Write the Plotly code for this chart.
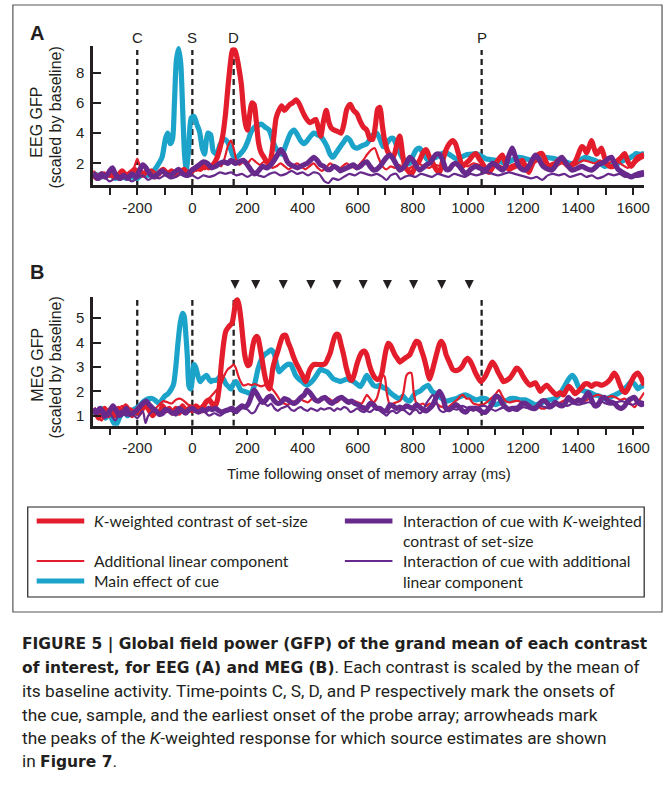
import plotly.graph_objects as go

W, H = 671, 792


def px(x):
    return x / W


def py(y):
    return 1 - y / H


RED = "#e31d2b"
CYAN = "#1ba3c9"
PURPLE = "#672a8c"
INK = "#231f20"

# ---------------- data (time ms, GFP scaled by baseline) ----------------
eeg_cue = [(-360, 1.3), (-340, 1.2), (-320, 1.1), (-300, 1.3), (-280, 1.0), (-260, 1.2), (-240, 1.0), (-220, 1.1),
           (-200, 1.0), (-180, 1.3), (-160, 1.2), (-140, 1.5), (-125, 1.9), (-110, 2.4), (-98, 3.6), (-90, 4.0),
           (-80, 3.3), (-72, 3.6), (-65, 6.0), (-58, 8.8), (-50, 9.6), (-42, 8.6), (-35, 5.5), (-28, 2.5),
           (-22, 1.6), (-14, 2.8), (-4, 5.0), (6, 5.1), (16, 4.6), (26, 4.1), (36, 3.0), (44, 2.6), (56, 4.0),
           (66, 3.9), (76, 2.8), (88, 2.6), (100, 3.2), (112, 3.6), (124, 3.5), (136, 3.1), (148, 2.5), (162, 2.4),
           (178, 2.7), (190, 3.0), (202, 3.5), (214, 4.1), (226, 4.4), (238, 4.5), (250, 4.6), (264, 4.4),
           (279, 4.2), (290, 3.6), (300, 3.1), (312, 2.8), (324, 2.6), (335, 3.0), (345, 3.5), (357, 4.0),
           (369, 4.2), (381, 3.9), (393, 3.5), (405, 3.3), (417, 3.5), (429, 3.8), (441, 4.0), (453, 3.9),
           (465, 3.8), (477, 3.5), (489, 3.1), (500, 2.6), (510, 2.4), (522, 2.7), (537, 3.1), (549, 3.4),
           (561, 3.7), (573, 3.5), (585, 3.1), (597, 3.0), (609, 3.1), (621, 3.2), (633, 3.3), (645, 3.6),
           (657, 3.9), (669, 4.0), (681, 3.6), (693, 3.1), (705, 3.3), (717, 3.6), (729, 3.65), (741, 3.2),
           (753, 2.7), (765, 2.3), (777, 2.0), (789, 2.0), (801, 2.5), (813, 2.9), (825, 3.0), (840, 2.6),
           (855, 2.2), (870, 2.3), (885, 2.4), (900, 2.6), (921, 2.7), (940, 2.5), (957, 2.3), (975, 2.4),
           (993, 2.55), (1010, 2.6), (1029, 2.65), (1047, 2.5), (1065, 2.3), (1083, 2.25), (1101, 2.2),
           (1120, 2.1), (1137, 2.0), (1160, 2.2), (1185, 2.4), (1210, 2.3), (1233, 2.2), (1257, 2.3), (1281, 2.4),
           (1300, 2.35), (1317, 2.3), (1335, 2.2), (1353, 2.1), (1371, 2.0), (1389, 2.0), (1407, 2.2),
           (1425, 2.4), (1443, 2.3), (1461, 2.2), (1480, 2.0), (1497, 1.8), (1520, 1.9), (1545, 2.0),
           (1565, 2.2), (1581, 2.3), (1600, 2.5), (1611, 2.65), (1625, 2.6), (1640, 2.65)]

eeg_k = [(-360, 1.2), (-345, 1.0), (-330, 1.3), (-315, 1.1), (-300, 1.4), (-285, 1.1), (-270, 1.2), (-255, 1.5),
         (-240, 1.2), (-225, 1.3), (-210, 1.6), (-195, 1.4), (-180, 1.2), (-165, 1.5), (-150, 1.3), (-135, 1.1),
         (-120, 1.4), (-105, 1.6), (-90, 1.3), (-75, 1.5), (-60, 1.2), (-45, 1.4), (-30, 1.6), (-15, 1.3),
         (0, 1.5), (15, 1.7), (30, 1.6), (45, 1.9), (60, 1.7), (75, 1.9), (88, 2.3), (100, 3.0), (110, 3.8),
         (120, 5.2), (130, 7.2), (138, 8.6), (146, 9.5), (154, 9.5), (162, 9.0), (170, 8.2), (178, 7.2),
         (186, 5.5), (194, 4.5), (200, 4.2), (208, 5.2), (216, 6.0), (224, 5.9), (232, 4.8), (240, 3.4),
         (250, 2.7), (260, 2.4), (270, 2.1), (280, 2.0), (288, 2.6), (296, 3.8), (304, 5.0), (314, 5.5),
         (324, 5.8), (334, 5.5), (344, 5.7), (354, 5.9), (364, 6.0), (376, 6.2), (386, 6.0), (396, 5.6),
         (406, 5.2), (416, 4.9), (426, 4.7), (438, 4.8), (448, 4.9), (458, 4.3), (466, 3.8), (476, 4.8),
         (486, 5.5), (496, 4.7), (506, 4.3), (516, 4.2), (528, 4.1), (540, 4.0), (550, 4.6), (561, 5.6),
         (573, 5.9), (585, 5.5), (597, 5.3), (609, 4.8), (621, 4.4), (633, 4.2), (645, 3.6), (655, 3.6),
         (665, 4.6), (673, 5.6), (681, 5.7), (689, 4.6), (697, 3.6), (711, 2.7), (729, 2.4), (743, 3.3),
         (753, 3.8), (763, 2.6), (771, 1.8), (783, 1.5), (795, 1.3), (810, 1.8), (825, 2.2), (837, 2.7),
         (849, 2.9), (861, 2.4), (873, 2.0), (885, 1.6), (897, 1.4), (909, 2.2), (921, 2.9), (933, 3.3),
         (945, 3.5), (955, 3.3), (965, 2.7), (981, 1.8), (993, 2.0), (1005, 2.2), (1017, 2.5), (1029, 2.65),
         (1041, 2.3), (1053, 2.0), (1065, 1.6), (1077, 1.4), (1089, 1.7), (1101, 2.0), (1113, 2.3),
         (1125, 2.55), (1137, 2.0), (1149, 1.6), (1161, 1.7), (1173, 1.8), (1185, 2.0), (1197, 2.2),
         (1209, 1.8), (1221, 1.4), (1233, 1.9), (1245, 2.4), (1257, 2.6), (1269, 2.65), (1281, 2.2),
         (1293, 1.8), (1305, 1.9), (1317, 2.0), (1329, 2.2), (1341, 2.2), (1353, 2.0), (1365, 1.8),
         (1377, 1.9), (1389, 2.1), (1401, 2.6), (1413, 3.1), (1422, 3.0), (1431, 2.7), (1440, 3.1),
         (1449, 3.5), (1458, 3.0), (1467, 2.6), (1476, 2.8), (1485, 3.0), (1494, 2.5), (1503, 2.0),
         (1515, 1.8), (1527, 1.8), (1545, 2.2), (1557, 2.4), (1569, 2.65), (1581, 2.1), (1593, 1.8),
         (1605, 2.1), (1617, 2.4), (1629, 2.5), (1640, 2.6)]

eeg_lin = [(-360, 1.5), (-340, 1.2), (-320, 1.4), (-300, 1.1), (-280, 1.3), (-260, 1.0), (-240, 1.3), (-225, 1.5),
           (-212, 1.7), (-200, 2.3), (-190, 1.8), (-178, 1.4), (-165, 1.3), (-150, 1.6), (-135, 1.4), (-120, 1.2),
           (-105, 1.5), (-90, 1.4), (-75, 1.2), (-60, 1.5), (-45, 1.3), (-30, 1.6), (-15, 1.4), (0, 1.7),
           (15, 1.5), (30, 1.8), (45, 1.6), (60, 1.9), (75, 1.7), (90, 2.0), (105, 1.8), (118, 2.4), (130, 3.2),
           (140, 3.5), (150, 3.0), (160, 2.2), (172, 1.9), (185, 2.1), (200, 2.0), (215, 2.3), (230, 2.1),
           (245, 1.9), (260, 2.1), (275, 1.9), (290, 1.7), (305, 1.8), (320, 2.0), (335, 1.8), (350, 1.6),
           (365, 1.8), (380, 2.0), (395, 1.8), (410, 1.6), (425, 1.8), (440, 2.0), (455, 1.7), (470, 1.5),
           (485, 1.7), (500, 2.0), (515, 1.8), (530, 1.6), (545, 1.8), (560, 2.0), (575, 1.8), (590, 1.7),
           (605, 1.9), (620, 2.2), (635, 2.6), (650, 2.9), (662, 3.0), (675, 2.4), (690, 1.8), (705, 1.6),
           (720, 1.8), (735, 1.7), (750, 1.9), (765, 1.7), (780, 1.6), (800, 1.8), (820, 2.0), (840, 1.8),
           (860, 1.7), (880, 1.9), (900, 1.8), (920, 1.6), (940, 1.8), (960, 2.0), (980, 1.9), (1000, 1.8),
           (1020, 2.0), (1040, 1.9), (1060, 1.7), (1080, 1.8), (1100, 2.0), (1120, 1.8), (1140, 1.7),
           (1160, 1.9), (1180, 2.0), (1200, 1.8), (1220, 1.7), (1240, 2.0), (1260, 2.2), (1280, 2.0),
           (1300, 1.9), (1320, 1.8), (1340, 2.0), (1360, 1.9), (1380, 1.8), (1400, 2.0), (1420, 2.2),
           (1440, 2.1), (1460, 2.0), (1480, 2.2), (1500, 1.9), (1520, 2.1), (1540, 2.2), (1560, 1.9),
           (1580, 1.7), (1600, 1.9), (1620, 2.2), (1640, 2.4)]

eeg_int_k = [(-360, 1.4), (-345, 1.0), (-330, 1.3), (-315, 1.1), (-300, 1.5), (-290, 1.7), (-280, 1.3), (-265, 1.0),
             (-250, 1.2), (-235, 1.0), (-220, 1.3), (-205, 1.1), (-190, 1.6), (-180, 1.9), (-168, 1.7), (-155, 1.3),
             (-140, 1.1), (-125, 1.3), (-110, 1.5), (-95, 1.3), (-80, 1.2), (-65, 1.4), (-50, 1.6), (-35, 1.3),
             (-20, 1.2), (-5, 1.5), (10, 1.7), (25, 1.9), (40, 2.1), (55, 2.0), (70, 1.7), (85, 1.8), (100, 2.0),
             (115, 2.1), (130, 2.0), (140, 2.2), (155, 2.0), (170, 2.1), (185, 2.2), (200, 1.9), (215, 1.5),
             (226, 1.3), (240, 1.5), (255, 1.8), (270, 1.7), (285, 1.9), (297, 2.2), (310, 2.6), (321, 2.9),
             (333, 2.6), (345, 2.1), (357, 1.9), (369, 1.8), (381, 1.7), (393, 1.8), (405, 1.9), (417, 2.0),
             (429, 2.2), (441, 2.4), (453, 2.2), (465, 1.9), (477, 1.8), (489, 1.6), (501, 1.6), (513, 1.8),
             (525, 1.7), (537, 1.5), (549, 1.6), (561, 1.7), (573, 1.8), (585, 1.9), (597, 1.7), (609, 1.8),
             (621, 2.0), (633, 2.1), (645, 1.8), (657, 1.55), (669, 1.6), (681, 1.8), (693, 2.1), (705, 2.4),
             (717, 2.55), (729, 2.3), (741, 1.9), (753, 1.55), (765, 1.7), (777, 2.0), (789, 2.4), (801, 2.2),
             (813, 1.8), (825, 1.55), (837, 1.7), (849, 1.9), (861, 2.0), (873, 2.3), (885, 2.6), (897, 2.6),
             (909, 2.2), (921, 1.6), (933, 1.6), (945, 1.9), (957, 2.0), (969, 1.8), (981, 1.5), (993, 1.3),
             (1005, 1.5), (1017, 1.7), (1029, 1.8), (1041, 1.7), (1053, 1.6), (1065, 1.55), (1077, 1.8),
             (1089, 2.0), (1101, 1.9), (1113, 1.7), (1125, 1.55), (1137, 1.8), (1149, 2.5), (1161, 3.0),
             (1173, 2.4), (1185, 1.8), (1197, 1.6), (1209, 1.55), (1221, 1.8), (1233, 2.2), (1245, 2.55),
             (1257, 2.3), (1269, 1.9), (1281, 1.7), (1293, 1.6), (1305, 1.55), (1317, 1.8), (1329, 2.2),
             (1341, 2.4), (1353, 2.1), (1365, 1.8), (1377, 1.55), (1389, 1.6), (1401, 1.7), (1413, 1.8),
             (1425, 1.7), (1437, 1.6), (1449, 1.55), (1461, 1.7), (1473, 1.9), (1485, 2.0), (1497, 2.1),
             (1509, 2.3), (1521, 2.4), (1533, 2.0), (1545, 1.6), (1557, 1.45), (1569, 1.3), (1581, 1.2),
             (1593, 1.1), (1605, 1.2), (1617, 1.3), (1629, 1.35), (1640, 1.4)]

eeg_int_lin = [(-360, 1.2), (-340, 0.9), (-320, 1.1), (-300, 0.8), (-280, 1.0), (-260, 0.9), (-240, 1.1), (-220, 0.8),
               (-200, 1.0), (-180, 1.2), (-160, 0.9), (-140, 1.1), (-120, 1.0), (-100, 1.2), (-80, 1.0), (-60, 1.1),
               (-40, 1.3), (-20, 1.1), (0, 1.2), (20, 1.0), (40, 1.2), (60, 1.1), (80, 1.2), (100, 1.4), (120, 1.3),
               (140, 1.4), (160, 1.2), (180, 1.3), (200, 1.1), (220, 1.3), (240, 1.2), (260, 1.1), (280, 1.3),
               (300, 1.4), (320, 1.2), (340, 1.3), (360, 1.5), (380, 1.3), (400, 1.4), (420, 1.2), (440, 1.4),
               (460, 1.3), (480, 0.8), (495, 0.7), (510, 1.0), (530, 0.9), (550, 1.1), (570, 1.3), (590, 1.2),
               (610, 1.4), (630, 1.3), (650, 1.2), (670, 1.3), (690, 1.1), (705, 0.9), (720, 1.2), (740, 1.3),
               (755, 0.95), (770, 1.1), (790, 1.2), (810, 1.1), (830, 1.3), (850, 1.2), (870, 1.1), (890, 1.3),
               (910, 1.2), (930, 1.1), (950, 1.3), (970, 1.2), (990, 1.1), (1010, 1.3), (1030, 1.2), (1050, 1.3),
               (1070, 1.4), (1090, 1.3), (1110, 1.2), (1130, 1.3), (1150, 1.4), (1170, 1.3), (1190, 1.2),
               (1210, 1.1), (1230, 1.0), (1250, 1.1), (1270, 0.9), (1290, 1.2), (1310, 1.3), (1330, 1.2),
               (1350, 1.3), (1370, 1.1), (1390, 1.2), (1410, 1.3), (1430, 1.1), (1450, 1.2), (1470, 1.0),
               (1490, 1.1), (1510, 1.3), (1530, 1.2), (1550, 1.3), (1570, 1.1), (1590, 1.2), (1610, 1.1),
               (1640, 1.2)]

meg_cue = [(-360, 1.2), (-345, 1.0), (-330, 1.3), (-315, 0.9), (-300, 1.1), (-290, 0.8), (-278, 0.6), (-265, 0.9),
           (-250, 1.2), (-235, 1.0), (-220, 1.2), (-205, 1.3), (-192, 1.4), (-180, 1.55), (-168, 1.65), (-156, 1.7),
           (-144, 1.7), (-132, 1.6), (-120, 1.5), (-110, 1.65), (-100, 1.8), (-88, 1.9), (-76, 2.1), (-68, 2.3),
           (-60, 3.0), (-52, 4.0), (-44, 4.8), (-36, 5.2), (-30, 5.1), (-24, 4.4), (-18, 3.4), (-12, 2.2),
           (-6, 2.1), (0, 2.5), (6, 3.1), (12, 3.0), (20, 2.65), (28, 2.4), (36, 2.5), (44, 2.6), (52, 2.65),
           (60, 2.5), (68, 2.4), (76, 2.45), (86, 2.45), (96, 2.55), (104, 2.65), (113, 2.5), (122, 2.3),
           (131, 2.2), (140, 2.1), (149, 2.3), (158, 2.4), (167, 2.25), (176, 2.05), (188, 2.0), (200, 1.95),
           (212, 1.9), (224, 2.2), (238, 2.9), (250, 3.3), (262, 3.5), (274, 3.6), (286, 3.7), (297, 3.55),
           (306, 3.1), (315, 2.8), (324, 2.9), (333, 3.0), (345, 3.1), (357, 3.1), (366, 2.9), (375, 2.65),
           (387, 2.5), (399, 2.4), (408, 2.3), (417, 2.25), (429, 2.35), (441, 2.5), (453, 2.7), (465, 2.9),
           (477, 2.85), (489, 2.8), (501, 2.65), (513, 2.5), (525, 2.45), (537, 2.4), (549, 2.45), (561, 2.5),
           (573, 2.45), (585, 2.4), (597, 2.3), (609, 2.2), (621, 2.4), (633, 2.65), (645, 2.45), (657, 2.25),
           (669, 2.2), (681, 2.25), (693, 2.15), (705, 2.1), (717, 1.95), (729, 1.85), (741, 1.75), (753, 1.7),
           (765, 1.8), (777, 1.65), (789, 1.6), (801, 1.8), (813, 1.95), (825, 2.0), (840, 2.15), (855, 2.25),
           (870, 2.0), (885, 1.9), (900, 1.75), (921, 1.6), (940, 1.65), (957, 1.7), (975, 1.8), (993, 1.85),
           (1010, 1.75), (1029, 1.65), (1047, 1.7), (1065, 1.7), (1083, 1.55), (1101, 1.45), (1120, 1.55),
           (1137, 1.6), (1155, 1.7), (1173, 1.7), (1191, 1.65), (1209, 1.65), (1227, 1.55), (1245, 1.45),
           (1263, 1.5), (1281, 1.6), (1299, 1.65), (1317, 1.7), (1335, 1.9), (1353, 2.25), (1366, 2.5),
           (1379, 2.65), (1390, 2.5), (1401, 2.2), (1413, 2.05), (1425, 2.0), (1443, 1.95), (1461, 1.85),
           (1479, 1.8), (1497, 1.7), (1515, 1.75), (1533, 1.85), (1551, 1.95), (1569, 2.1), (1581, 2.25),
           (1593, 2.4), (1605, 2.3), (1617, 2.1), (1629, 2.2), (1640, 2.25)]

meg_k = [(-360, 1.3), (-350, 1.1), (-340, 0.9), (-330, 1.1), (-318, 1.3), (-305, 1.0), (-292, 1.2), (-280, 1.0),
         (-268, 1.3), (-255, 1.1), (-242, 1.4), (-230, 1.2), (-218, 1.0), (-205, 1.2), (-192, 1.1), (-180, 1.3),
         (-168, 1.4), (-156, 1.2), (-144, 1.0), (-132, 1.2), (-120, 1.1), (-108, 1.4), (-96, 1.2), (-84, 1.3),
         (-72, 1.1), (-60, 1.3), (-48, 1.1), (-36, 1.4), (-24, 1.2), (-12, 1.3), (0, 1.2), (12, 1.4), (24, 1.3),
         (36, 1.2), (44, 1.45), (53, 1.6), (62, 1.65), (71, 1.5), (80, 1.35), (90, 1.6), (98, 2.2), (106, 3.2),
         (114, 4.0), (121, 4.45), (129, 4.6), (136, 4.7), (144, 4.8), (151, 5.2), (158, 5.7), (164, 5.75),
         (170, 5.5), (177, 4.9), (184, 4.1), (190, 3.5), (196, 3.2), (202, 3.05), (208, 3.1), (214, 3.5),
         (220, 3.9), (226, 4.15), (232, 4.25), (238, 4.2), (244, 3.9), (250, 3.5), (256, 3.1), (262, 2.7),
         (268, 2.4), (274, 2.2), (280, 2.1), (286, 2.4), (292, 2.95), (300, 3.3), (309, 3.6), (318, 3.95),
         (327, 4.25), (333, 4.3), (339, 4.3), (348, 4.0), (357, 3.75), (366, 3.45), (375, 3.2), (384, 3.0),
         (393, 2.8), (402, 2.6), (411, 2.4), (417, 2.55), (423, 2.8), (432, 3.0), (441, 3.1), (453, 3.1),
         (465, 3.1), (474, 3.1), (483, 3.15), (492, 3.35), (501, 3.6), (510, 4.0), (519, 4.3), (525, 4.35),
         (531, 4.3), (540, 3.9), (549, 3.5), (558, 3.0), (567, 2.65), (573, 2.5), (579, 2.45), (588, 2.7),
         (597, 3.1), (606, 3.4), (615, 3.6), (624, 3.65), (633, 3.5), (642, 3.1), (651, 2.8), (660, 2.6),
         (669, 2.5), (678, 2.5), (687, 2.7), (695, 3.2), (703, 3.7), (711, 3.97), (719, 3.9), (727, 3.7),
         (735, 3.5), (744, 3.35), (753, 3.2), (765, 3.3), (777, 3.4), (789, 3.5), (801, 3.8), (813, 4.05),
         (822, 4.0), (831, 3.7), (840, 3.4), (849, 3.0), (855, 2.7), (861, 2.5), (870, 2.8), (879, 3.2),
         (888, 3.6), (897, 3.95), (903, 4.05), (912, 3.9), (921, 3.5), (933, 3.2), (945, 2.9), (957, 2.85),
         (969, 2.9), (981, 3.05), (990, 3.25), (999, 3.35), (1008, 3.25), (1017, 3.05), (1026, 2.8),
         (1035, 2.6), (1047, 2.4), (1056, 2.5), (1065, 2.65), (1077, 2.95), (1089, 3.2), (1099, 3.05),
         (1109, 2.8), (1119, 2.6), (1129, 2.4), (1141, 2.45), (1153, 2.55), (1165, 2.75), (1177, 2.95),
         (1189, 2.85), (1201, 2.6), (1213, 2.4), (1225, 2.25), (1235, 2.3), (1245, 2.35), (1255, 2.15),
         (1263, 2.0), (1275, 2.15), (1287, 2.25), (1299, 2.1), (1311, 1.95), (1323, 1.85), (1335, 1.95),
         (1347, 1.85), (1357, 2.05), (1367, 2.2), (1379, 2.05), (1389, 1.9), (1401, 2.0), (1413, 2.15),
         (1425, 2.3), (1437, 2.3), (1449, 2.2), (1461, 2.3), (1473, 2.3), (1485, 2.25), (1497, 2.3),
         (1509, 2.4), (1520, 2.55), (1531, 2.75), (1541, 2.6), (1551, 2.3), (1561, 2.05), (1571, 1.95),
         (1581, 2.1), (1593, 2.4), (1605, 2.65), (1617, 2.75), (1629, 2.55), (1640, 2.25)]

meg_lin = [(-360, 1.2), (-345, 1.0), (-330, 0.8), (-315, 1.1), (-300, 1.3), (-285, 1.0), (-270, 1.2), (-255, 1.4),
           (-240, 1.1), (-225, 1.3), (-210, 1.2), (-195, 1.4), (-180, 1.35), (-165, 1.5), (-150, 1.4), (-135, 1.3),
           (-120, 1.45), (-105, 1.6), (-90, 1.55), (-75, 1.5), (-60, 1.65), (-45, 1.7), (-30, 1.6), (-15, 1.45),
           (0, 1.4), (12, 1.35), (24, 1.3), (36, 1.45), (48, 1.6), (60, 1.7), (72, 1.85), (84, 2.0), (96, 2.15),
           (108, 2.4), (118, 2.7), (128, 2.9), (140, 3.0), (150, 3.1), (158, 2.95), (166, 2.65), (175, 2.4),
           (184, 2.25), (193, 2.25), (202, 2.3), (214, 2.25), (226, 2.3), (238, 2.25), (250, 2.2), (262, 2.25),
           (274, 2.3), (286, 2.15), (297, 2.0), (309, 1.8), (321, 1.6), (333, 1.5), (345, 1.45), (360, 1.55),
           (375, 1.6), (390, 1.7), (405, 1.6), (420, 1.55), (435, 1.7), (450, 1.65), (465, 1.6), (480, 1.75),
           (495, 1.7), (510, 1.6), (525, 1.55), (540, 1.7), (555, 1.65), (570, 1.5), (585, 1.6), (600, 1.55),
           (615, 1.5), (633, 1.85), (645, 1.7), (657, 1.55), (669, 1.7), (681, 2.2), (690, 2.65), (698, 2.6),
           (706, 1.9), (717, 1.45), (729, 1.5), (741, 1.55), (753, 1.6), (765, 1.9), (777, 2.65), (786, 2.75),
           (795, 2.75), (803, 2.0), (812, 1.55), (825, 1.45), (837, 1.5), (849, 1.4), (861, 1.5), (873, 1.45),
           (885, 1.5), (897, 1.4), (909, 1.35), (921, 1.3), (940, 1.45), (960, 1.65), (981, 1.85), (995, 1.7),
           (1005, 1.7), (1020, 1.5), (1035, 1.45), (1053, 1.45), (1068, 1.55), (1083, 1.7), (1098, 1.85),
           (1113, 2.05), (1125, 1.8), (1137, 1.6), (1155, 1.55), (1170, 1.6), (1185, 1.6), (1200, 1.5),
           (1215, 1.4), (1233, 1.35), (1250, 1.4), (1265, 1.3), (1281, 1.3), (1297, 1.4), (1313, 1.5),
           (1329, 1.5), (1345, 1.6), (1361, 1.7), (1377, 1.7), (1393, 1.6), (1409, 1.55), (1425, 1.6),
           (1441, 1.7), (1457, 1.8), (1473, 1.85), (1489, 1.8), (1505, 1.75), (1521, 1.8), (1537, 1.75),
           (1553, 1.65), (1569, 1.7), (1585, 1.55), (1605, 1.35), (1620, 1.6), (1640, 1.95)]

meg_int_k = [(-360, 1.3), (-348, 1.1), (-336, 1.3), (-324, 1.15), (-312, 1.0), (-300, 1.2), (-288, 1.4), (-276, 1.2),
             (-264, 1.0), (-252, 1.1), (-240, 1.3), (-228, 1.05), (-216, 1.1), (-204, 1.2), (-192, 1.35), (-180, 1.5),
             (-168, 1.6), (-156, 1.45), (-144, 1.3), (-132, 1.2), (-120, 1.05), (-108, 1.1), (-96, 1.25),
             (-84, 1.2), (-72, 1.1), (-60, 1.15), (-48, 1.3), (-36, 1.2), (-24, 1.1), (-12, 1.25), (0, 1.3),
             (12, 1.2), (24, 1.15), (36, 1.25), (48, 1.2), (60, 1.3), (72, 1.25), (84, 1.3), (96, 1.2), (108, 1.15),
             (120, 1.2), (132, 1.25), (144, 1.3), (156, 1.2), (168, 1.3), (180, 1.4), (192, 1.35), (204, 1.5),
             (214, 1.8), (224, 2.05), (234, 1.9), (244, 1.7), (254, 1.55), (264, 1.6), (274, 1.75), (286, 1.8),
             (298, 1.6), (310, 1.5), (322, 1.55), (334, 1.7), (346, 1.65), (358, 1.55), (370, 1.5), (382, 1.6),
             (394, 1.75), (406, 1.85), (416, 2.05), (426, 1.95), (436, 1.8), (446, 1.65), (458, 1.6), (470, 1.7),
             (482, 1.75), (494, 1.6), (506, 1.5), (518, 1.6), (530, 1.7), (542, 1.75), (554, 1.65), (566, 1.55),
             (578, 1.6), (590, 1.5), (602, 1.45), (614, 1.35), (626, 1.3), (633, 1.3), (645, 1.5), (657, 1.45),
             (669, 1.3), (681, 1.3), (693, 1.2), (705, 1.2), (717, 1.45), (729, 1.4), (741, 1.3), (753, 1.35),
             (765, 1.3), (777, 1.4), (789, 1.35), (801, 1.3), (813, 1.45), (825, 1.35), (837, 1.25), (849, 1.2),
             (861, 1.3), (873, 1.45), (885, 1.75), (897, 2.0), (909, 1.75), (921, 1.3), (933, 1.25), (945, 1.35),
             (957, 1.45), (969, 1.35), (981, 1.2), (993, 1.15), (1005, 1.3), (1017, 1.3), (1029, 1.3),
             (1041, 1.25), (1053, 1.15), (1065, 1.15), (1077, 1.3), (1089, 1.5), (1101, 1.8), (1113, 1.75),
             (1125, 1.5), (1137, 1.35), (1149, 1.25), (1161, 1.3), (1173, 1.3), (1185, 1.35), (1197, 1.5),
             (1209, 1.5), (1221, 1.4), (1233, 1.3), (1245, 1.3), (1257, 1.45), (1269, 1.6), (1281, 1.6),
             (1293, 1.45), (1305, 1.4), (1317, 1.55), (1329, 1.45), (1341, 1.4), (1353, 1.5), (1365, 1.75),
             (1377, 1.6), (1389, 1.55), (1401, 1.65), (1413, 1.6), (1425, 1.75), (1437, 1.95), (1449, 1.65),
             (1461, 1.4), (1473, 1.45), (1485, 1.7), (1497, 1.75), (1509, 1.6), (1521, 1.55), (1533, 1.5),
             (1545, 1.35), (1557, 1.3), (1569, 1.4), (1581, 1.6), (1593, 1.7), (1605, 1.75), (1617, 1.55),
             (1629, 1.45), (1640, 1.5)]

meg_int_lin = [(-360, 1.1), (-340, 1.3), (-320, 0.9), (-300, 1.1), (-280, 0.8), (-260, 1.2), (-240, 1.0), (-220, 1.1),
               (-200, 0.9), (-180, 1.2), (-170, 0.7), (-160, 1.0), (-140, 1.2), (-120, 1.1), (-100, 1.3), (-80, 1.2),
               (-60, 1.0), (-40, 1.2), (-20, 1.1), (0, 1.3), (20, 1.1), (40, 1.2), (60, 1.0), (80, 1.1), (100, 1.0),
               (120, 1.15), (140, 1.2), (160, 1.1), (180, 1.3), (200, 1.25), (215, 1.1), (226, 1.15), (238, 1.4),
               (250, 1.6), (262, 1.5), (274, 1.4), (286, 1.5), (298, 1.3), (310, 1.2), (322, 1.3), (334, 1.35),
               (346, 1.4), (358, 1.25), (370, 1.2), (382, 1.3), (394, 1.35), (406, 1.25), (418, 1.2), (430, 1.3),
               (442, 1.25), (454, 1.2), (466, 1.3), (478, 1.25), (490, 1.3), (502, 1.3), (514, 1.2), (526, 1.3),
               (538, 1.25), (550, 1.35), (562, 1.3), (574, 1.15), (586, 1.2), (598, 1.3), (610, 1.2), (622, 1.15),
               (633, 1.2), (645, 1.15), (657, 1.25), (669, 1.3), (681, 1.2), (693, 1.1), (705, 1.0), (717, 1.15),
               (729, 1.2), (741, 1.1), (753, 1.2), (765, 1.25), (777, 1.15), (789, 1.05), (801, 1.2), (813, 1.25),
               (825, 1.1), (837, 1.2), (849, 1.5), (861, 1.7), (873, 1.85), (885, 1.6), (897, 1.25), (909, 1.15),
               (921, 1.2), (940, 1.3), (960, 1.25), (980, 1.4), (1000, 1.3), (1020, 1.2), (1040, 1.35), (1060, 1.4),
               (1080, 1.3), (1100, 1.2), (1120, 1.3), (1140, 1.35), (1160, 1.25), (1180, 1.2), (1200, 1.35),
               (1220, 1.3), (1240, 1.25), (1260, 1.4), (1280, 1.35), (1300, 1.3), (1320, 1.45), (1340, 1.5),
               (1360, 1.4), (1380, 1.5), (1400, 1.45), (1420, 1.5), (1440, 1.55), (1460, 1.45), (1480, 1.6),
               (1500, 1.5), (1520, 1.45), (1540, 1.55), (1560, 1.6), (1580, 1.5), (1600, 1.45), (1620, 1.6),
               (1640, 1.55)]

event_times = [-200, 0, 150, 1050]
event_labels = ["C", "S", "D", "P"]
arrow_times = [155, 230, 330, 430, 525, 620, 708, 803, 905, 1005]

x_ticks = list(range(-300, 1700, 100))
x_labels = [str(v) if v % 200 == 0 else "" for v in x_ticks]
eeg_yticks = [2, 4, 6, 8]
meg_yticks = [1, 2, 3, 4, 5]

# ---------------- figure ----------------
X_RANGE = [-360, 1640]
EEG_RANGE = [0.563, 9.77]
MEG_RANGE = [0.589, 5.87]
TICK_FONT = dict(family="Liberation Sans, Arial, sans-serif", size=15, color=INK)

fig = go.Figure()

styles = [  # (colour, width)
    (CYAN, 5.2), (RED, 2.2), (RED, 5.2), (PURPLE, 2.2), (PURPLE, 5.2)
]
eeg_series = [eeg_cue, eeg_lin, eeg_k, eeg_int_lin, eeg_int_k]
meg_series = [meg_cue, meg_lin, meg_k, meg_int_lin, meg_int_k]

for series_set, xa, ya in [(eeg_series, "x", "y"), (meg_series, "x2", "y2")]:
    for s, (col, w) in zip(series_set, styles):
        fig.add_trace(go.Scatter(
            x=[p[0] for p in s], y=[p[1] for p in s], mode="lines",
            line=dict(color=col, width=w, shape="spline", smoothing=0.7),
            xaxis=xa, yaxis=ya, showlegend=False, hoverinfo="skip"))

# arrowheads marking K-weighted peaks (panel B), on a thin helper axis above panel B
fig.add_trace(go.Scatter(
    x=arrow_times, y=[0.5] * len(arrow_times), mode="markers", xaxis="x2", yaxis="y3",
    marker=dict(symbol="arrow-down", size=19, color=INK, line=dict(width=0)),
    showlegend=False, hoverinfo="skip"))

x_dom = [px(94), px(650)]
axis_common = dict(showline=True, linecolor=INK, linewidth=2.5, showgrid=False, zeroline=False,
                   tickfont=TICK_FONT, tickcolor=INK, tickwidth=2)
fig.update_layout(
    width=W, height=H, margin=dict(l=0, r=0, t=0, b=0),
    paper_bgcolor="white", plot_bgcolor="rgba(0,0,0,0)",
    xaxis=dict(domain=x_dom, range=X_RANGE, anchor="y", ticks="outside", ticklen=7,
               tickvals=x_ticks, ticktext=x_labels, ticklabelstandoff=0, **axis_common),
    yaxis=dict(domain=[py(185), py(46)], range=EEG_RANGE, anchor="x", ticks="inside", ticklen=8,
               tickvals=eeg_yticks, ticklabelstandoff=3, **axis_common),
    xaxis2=dict(domain=x_dom, range=X_RANGE, anchor="y2", ticks="outside", ticklen=7,
                tickvals=x_ticks, ticktext=x_labels, ticklabelstandoff=0, **axis_common),
    yaxis2=dict(domain=[py(425.7), py(297)], range=MEG_RANGE, anchor="x2", ticks="inside", ticklen=8,
                tickvals=meg_yticks, ticklabelstandoff=3, **axis_common),
    yaxis3=dict(domain=[py(298), py(280)], range=[0, 1], anchor="x2", visible=False, fixedrange=True),
)

shapes = []
# event dashed lines
for t in event_times:
    shapes.append(dict(type="line", xref="x", yref="y", x0=t, x1=t, y0=EEG_RANGE[0], y1=9.5, layer="below",
                       line=dict(color=INK, width=2.3, dash="6px,4px")))
    shapes.append(dict(type="line", xref="x2", yref="y2", x0=t, x1=t, y0=MEG_RANGE[0], y1=5.75, layer="below",
                       line=dict(color=INK, width=2.3, dash="6px,4px")))

# outer frame and legend box
shapes.append(dict(type="rect", xref="paper", yref="paper", x0=px(13), x1=px(668), y0=py(612), y1=py(5),
                   line=dict(color="#555555", width=1.2), fillcolor="rgba(0,0,0,0)", layer="below"))
shapes.append(dict(type="rect", xref="paper", yref="paper", x0=px(28), x1=px(650), y0=py(597), y1=py(507),
                   line=dict(color=INK, width=1.2), fillcolor="rgba(0,0,0,0)", layer="below"))

legend_rows = [  # (colour, width, x0, x1, y)
    (RED, 5, 37, 85, 521), (RED, 2, 37, 85, 561), (CYAN, 5, 37, 85, 581),
    (PURPLE, 5, 348, 396, 521), (PURPLE, 2, 348, 396, 561)]
for col, w, a, b, yy in legend_rows:
    shapes.append(dict(type="line", xref="paper", yref="paper", x0=px(a), x1=px(b), y0=py(yy), y1=py(yy),
                       line=dict(color=col, width=w)))
fig.update_layout(shapes=shapes)

ann = []
LAB = dict(family="Liberation Sans, Arial, sans-serif", color=INK)
ann.append(dict(text="<b>A</b>", x=px(37), y=py(33), font=dict(size=20, **LAB)))
ann.append(dict(text="<b>B</b>", x=px(37), y=py(272), font=dict(size=20, **LAB)))
for t, lab in zip(event_times, event_labels):
    ann.append(dict(text=lab, x=t, xref="x", y=py(37), yref="paper", font=dict(size=15, **LAB)))
ann.append(dict(text="EEG GFP", x=px(37), y=py(122), textangle=-90, font=dict(size=16, **LAB)))
ann.append(dict(text="(scaled by baseline)", x=px(55), y=py(118), textangle=-90, font=dict(size=16, **LAB)))
ann.append(dict(text="MEG GFP", x=px(37), y=py(365), textangle=-90, font=dict(size=16, **LAB)))
ann.append(dict(text="(scaled by baseline)", x=px(55), y=py(368), textangle=-90, font=dict(size=16, **LAB)))
ann.append(dict(text="Time following onset of memory array (ms)", x=px(372), y=py(473),
                font=dict(size=15, **LAB)))

LEG = dict(family="Lato, Roboto, sans-serif", size=15.7, color=INK)
leg_text = [
    ("<i>K</i>-weighted contrast of set-size", 93, 521),
    ("Additional linear component", 93, 561),
    ("Main effect of cue", 93, 581),
    ("Interaction of cue with <i>K</i>-weighted", 405, 521),
    ("contrast of set-size", 405, 541),
    ("Interaction of cue with additional", 405, 561),
    ("linear component", 405, 582),
]
for txt, xx, yy in leg_text:
    ann.append(dict(text=txt, x=px(xx), y=py(yy), xanchor="left", font=LEG))

CAP = dict(family="Roboto, sans-serif", size=17.3, color=INK)
BOLD_OPEN = "<b><span style='font-family:DejaVu Sans;font-size:15.5px'>"
BOLD_CLOSE = "</span></b>"
caption = [
    BOLD_OPEN + "FIGURE 5 | Global field power (GFP) of the grand mean of each contrast" + BOLD_CLOSE,
    BOLD_OPEN + "of interest, for EEG (A) and MEG (B)" + BOLD_CLOSE + ". Each contrast is scaled by the mean of",
    "its baseline activity. Time-points C, S, D, and P respectively mark the onsets of",
    "the cue, sample, and the earliest onset of the probe array; arrowheads mark",
    "the peaks of the <i>K</i>-weighted response for which source estimates are shown",
    "in " + BOLD_OPEN + "Figure 7" + BOLD_CLOSE + ".",
]
cap_y = [644, 667, 691, 715, 738, 761]
for txt, yy in zip(caption, cap_y):
    ann.append(dict(text=txt, x=px(20), y=py(yy), xanchor="left", font=CAP))

for a in ann:
    a.setdefault("xref", "paper")
    a.setdefault("yref", "paper")
    a.setdefault("xanchor", "center")
    a.setdefault("yanchor", "middle")
    a["showarrow"] = False
fig.update_layout(annotations=ann)

fig.write_html("out.html")
